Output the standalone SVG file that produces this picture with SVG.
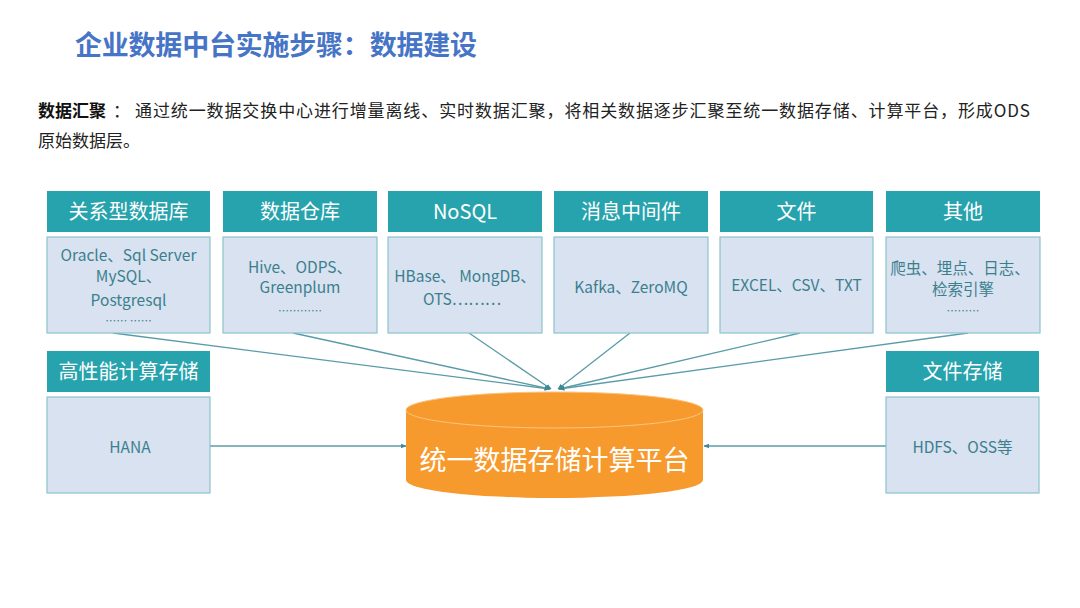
<svg xmlns="http://www.w3.org/2000/svg" width="1080" height="608" viewBox="0 0 1080 608">
<defs>
<style>
.t{font-family:"Noto Sans CJK SC","Microsoft YaHei",sans-serif}
.hd{fill:#27A3AD}
.bx{fill:#D9E2F0;stroke:#8CC3CB;stroke-width:1.2}
.ht{fill:#fff;font-size:20px;text-anchor:middle}
.ct{fill:#3B7F8F;font-size:15.5px;text-anchor:middle}
.dt{fill:#3B7F8F;font-size:11px;text-anchor:middle}
.ln{stroke:#5A9BAA;stroke-width:1.3;fill:none;marker-end:url(#ah)}
</style>
<marker id="ah" viewBox="0 0 10 10" refX="9" refY="5" markerWidth="6" markerHeight="6" orient="auto" markerUnits="userSpaceOnUse">
<path d="M0,1 L10,5 L0,9 Z" fill="#3E8898"/>
</marker>
</defs>
<rect width="1080" height="608" fill="#fff"/>
<text class="t" x="75" y="55" font-size="27" font-weight="bold" fill="#4674C6" textLength="402" lengthAdjust="spacing">企业数据中台实施步骤：数据建设</text>
<text class="t" x="38" y="117" font-size="17" font-weight="bold" fill="#111">数据汇聚</text>
<text class="t" x="113" y="117" font-size="17" fill="#222">：</text>
<text class="t" x="135" y="117" font-size="17" fill="#222" textLength="895" lengthAdjust="spacing">通过统一数据交换中心进行增量离线、实时数据汇聚，将相关数据逐步汇聚至统一数据存储、计算平台，形成ODS</text>
<text class="t" x="38" y="147" font-size="17" fill="#222">原始数据层。</text>

<g id="connectors">
<line class="ln" x1="113" y1="333" x2="550" y2="389"/>
<line class="ln" x1="293" y1="333" x2="550" y2="389"/>
<line class="ln" x1="469" y1="333" x2="551" y2="389"/>
<line class="ln" x1="630" y1="333" x2="558" y2="389"/>
<line class="ln" x1="800" y1="333" x2="559" y2="389"/>
<line class="ln" x1="968" y1="333" x2="559" y2="389"/>
<line class="ln" x1="210" y1="446" x2="406" y2="446"/>
<line class="ln" x1="886" y1="446" x2="704" y2="446"/>
</g>

<g id="n1">
<rect class="hd" x="47" y="191" width="163" height="41"/>
<text class="t ht" x="128.5" y="219">关系型数据库</text>
<rect class="bx" x="47" y="237" width="163" height="96"/>
<text class="t ct" x="128.5" y="261">Oracle、Sql Server</text>
<text class="t ct" x="128.5" y="282">MySQL、</text>
<text class="t ct" x="128.5" y="306">Postgresql</text>
<text class="t dt" x="128.5" y="325">…… ……</text>
</g>
<g id="n2">
<rect class="hd" x="223" y="191" width="154" height="41"/>
<text class="t ht" x="300" y="219">数据仓库</text>
<rect class="bx" x="223" y="237" width="154" height="96"/>
<text class="t ct" x="300" y="273">Hive、ODPS、</text>
<text class="t ct" x="300" y="293">Greenplum</text>
<text class="t dt" x="300" y="315">…………</text>
</g>
<g id="n3">
<rect class="hd" x="388" y="191" width="154" height="41"/>
<text class="t ht" x="465" y="219">NoSQL</text>
<rect class="bx" x="388" y="237" width="154" height="96"/>
<text class="t ct" x="465" y="282" font-size="14.5">HBase、 MongDB、</text>
<text class="t ct" x="462" y="305" font-size="14.5">OTS………</text>
</g>
<g id="n4">
<rect class="hd" x="554" y="191" width="154" height="41"/>
<text class="t ht" x="631" y="219">消息中间件</text>
<rect class="bx" x="554" y="237" width="154" height="96"/>
<text class="t ct" x="631" y="293">Kafka、ZeroMQ</text>
</g>
<g id="n5">
<rect class="hd" x="720" y="191" width="153" height="41"/>
<text class="t ht" x="796.5" y="219">文件</text>
<rect class="bx" x="720" y="237" width="153" height="96"/>
<text class="t ct" x="796.5" y="291">EXCEL、CSV、TXT</text>
</g>
<g id="n6">
<rect class="hd" x="886" y="191" width="154" height="41"/>
<text class="t ht" x="963" y="219">其他</text>
<rect class="bx" x="886" y="237" width="154" height="96"/>
<text class="t ct" x="960" y="274">爬虫、埋点、日志、</text>
<text class="t ct" x="963" y="295">检索引擎</text>
<text class="t dt" x="963" y="315">………</text>
</g>
<g id="n7">
<rect class="hd" x="47" y="351" width="163" height="41"/>
<text class="t ht" x="128.5" y="379">高性能计算存储</text>
<rect class="bx" x="47" y="397" width="163" height="96"/>
<text class="t ct" x="130" y="453">HANA</text>
</g>
<g id="n8">
<rect class="hd" x="886" y="351" width="153" height="41"/>
<text class="t ht" x="962.5" y="379">文件存储</text>
<rect class="bx" x="886" y="397" width="153" height="96"/>
<text class="t ct" x="962.5" y="453">HDFS、OSS等</text>
</g>
<g id="n9">
<path d="M406,410 L406,480 A148.5,18 0 0 0 703,480 L703,410 Z" fill="#F79A2E"/>
<ellipse cx="554.5" cy="410" rx="148.5" ry="18" fill="#F79A2E" stroke="#FBC47E" stroke-width="1"/>
<text class="t" x="554.5" y="470" font-size="27" fill="#fff" text-anchor="middle">统一数据存储计算平台</text>
</g>
</svg>
